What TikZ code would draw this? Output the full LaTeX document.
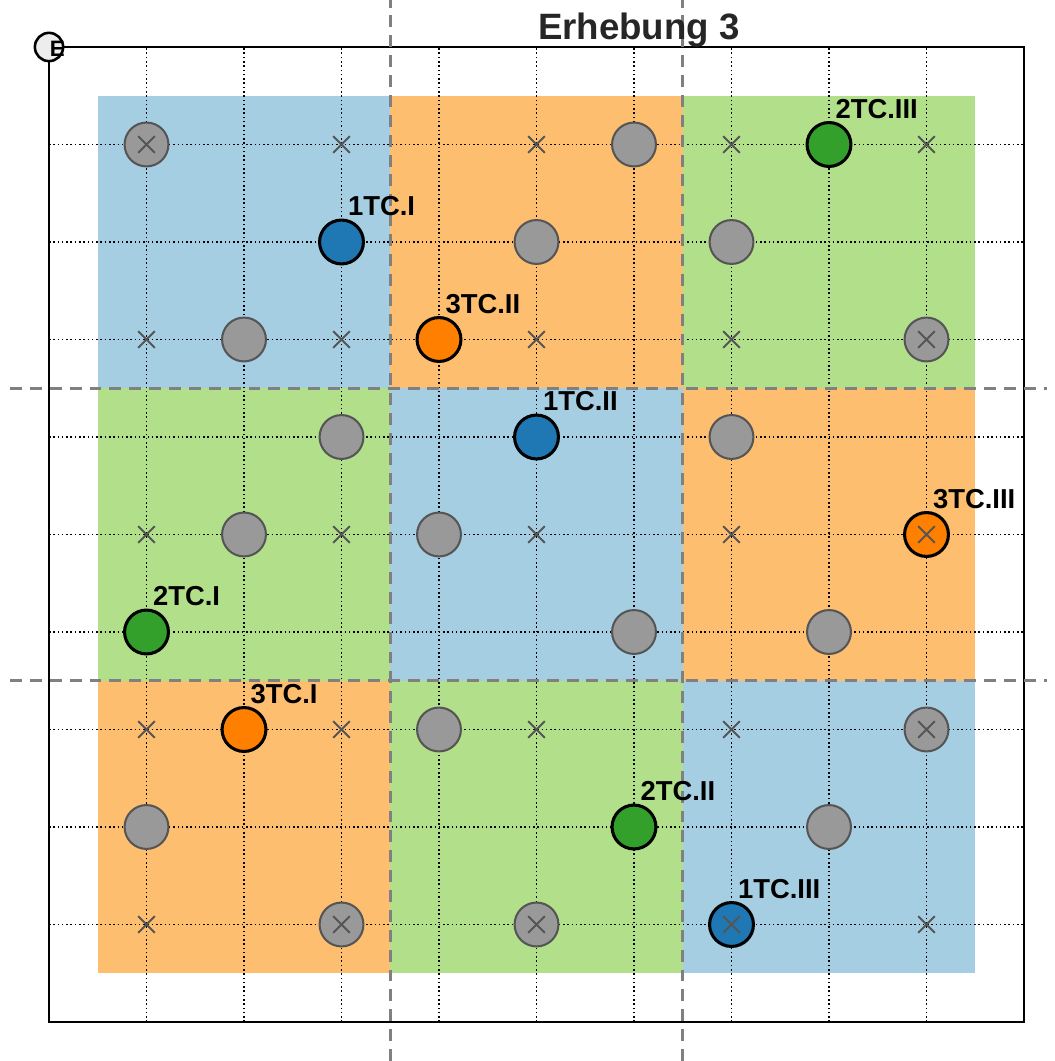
\documentclass[tikz,border=0pt]{standalone}
\usepackage{fontspec}
\setmainfont{Liberation Sans}
\usetikzlibrary{shapes.misc}
\definecolor{blockblue}{HTML}{A6CEE3}
\definecolor{blockorange}{HTML}{FDBF6F}
\definecolor{blockgreen}{HTML}{B2DF8A}
\definecolor{tcblue}{HTML}{1F78B4}
\definecolor{tcorange}{HTML}{FF7F00}
\definecolor{tcgreen}{HTML}{33A02C}
\definecolor{ptgray}{HTML}{999999}
\definecolor{ptedge}{HTML}{555555}
\definecolor{dashgray}{HTML}{808080}
\definecolor{titlegray}{HTML}{262626}

\begin{document}
\begin{tikzpicture}[
 x=1cm,y=1cm,font=\bfseries,
 gridline/.style={draw=black,line width=0.45pt,dash pattern=on 0.45pt off 0.8pt},
 sector/.style={draw=dashgray,line width=0.75pt,dash pattern=on 3.5pt off 2.3pt},
 pt/.style={circle,inner sep=0pt,minimum size=0.45cm},
 graypt/.style={pt,fill=ptgray,draw=ptedge,line width=0.6pt},
 tcpt/.style={pt,draw=black,line width=0.9pt},
 xmark/.style={cross out,draw=ptedge,line width=0.6pt,inner sep=0pt,minimum size=0.15cm},
 lbl/.style={anchor=base west,inner sep=0pt,font=\fontsize{8}{9}\selectfont\bfseries}]
\useasboundingbox (-0.5026,-0.4) rectangle (10.308,10.482);
% sector blocks
\fill[blockblue] (0.5,6.5) rectangle (3.5,9.5);
\fill[blockorange] (3.5,6.5) rectangle (6.5,9.5);
\fill[blockgreen] (6.5,6.5) rectangle (9.5,9.5);
\fill[blockgreen] (0.5,3.5) rectangle (3.5,6.5);
\fill[blockblue] (3.5,3.5) rectangle (6.5,6.5);
\fill[blockorange] (6.5,3.5) rectangle (9.5,6.5);
\fill[blockorange] (0.5,0.5) rectangle (3.5,3.5);
\fill[blockgreen] (3.5,0.5) rectangle (6.5,3.5);
\fill[blockblue] (6.5,0.5) rectangle (9.5,3.5);
% grid
\foreach \k in {1,...,9} {
 \draw[gridline] (\k,0) -- (\k,10);
 \draw[gridline] (0,\k) -- (10,\k);
}
\draw[line width=0.75pt] (0,0) rectangle (10,10);
% sector borders
\draw[sector] (3.5,-0.4) -- (3.5,10.482);
\draw[sector] (6.5,-0.4) -- (6.5,10.482);
\draw[sector] (-0.4,6.5) -- (10.236,6.5);
\draw[sector] (-0.4,3.5) -- (10.236,3.5);
% gray points
\node[graypt] (g19) at (1,9) {};
\node[graypt] (g69) at (6,9) {};
\node[graypt] (g58) at (5,8) {};
\node[graypt] (g78) at (7,8) {};
\node[graypt] (g27) at (2,7) {};
\node[graypt] (g97) at (9,7) {};
\node[graypt] (g36) at (3,6) {};
\node[graypt] (g76) at (7,6) {};
\node[graypt] (g25) at (2,5) {};
\node[graypt] (g45) at (4,5) {};
\node[graypt] (g64) at (6,4) {};
\node[graypt] (g84) at (8,4) {};
\node[graypt] (g43) at (4,3) {};
\node[graypt] (g93) at (9,3) {};
\node[graypt] (g12) at (1,2) {};
\node[graypt] (g82) at (8,2) {};
\node[graypt] (g31) at (3,1) {};
\node[graypt] (g51) at (5,1) {};
% TC points
\node[tcpt,fill=tcblue] (onetcI) at (3,8) {};
\node[tcpt,fill=tcblue] (onetcII) at (5,6) {};
\node[tcpt,fill=tcblue] (onetcIII) at (7,1) {};
\node[tcpt,fill=tcgreen] (twotcI) at (1,4) {};
\node[tcpt,fill=tcgreen] (twotcII) at (6,2) {};
\node[tcpt,fill=tcgreen] (twotcIII) at (8,9) {};
\node[tcpt,fill=tcorange] (threetcI) at (2,3) {};
\node[tcpt,fill=tcorange] (threetcII) at (4,7) {};
\node[tcpt,fill=tcorange] (threetcIII) at (9,5) {};
% crosses
\node[xmark] (x19) at (1,9) {};
\node[xmark] (x39) at (3,9) {};
\node[xmark] (x59) at (5,9) {};
\node[xmark] (x79) at (7,9) {};
\node[xmark] (x99) at (9,9) {};
\node[xmark] (x17) at (1,7) {};
\node[xmark] (x37) at (3,7) {};
\node[xmark] (x57) at (5,7) {};
\node[xmark] (x77) at (7,7) {};
\node[xmark] (x97) at (9,7) {};
\node[xmark] (x15) at (1,5) {};
\node[xmark] (x35) at (3,5) {};
\node[xmark] (x55) at (5,5) {};
\node[xmark] (x75) at (7,5) {};
\node[xmark] (x95) at (9,5) {};
\node[xmark] (x13) at (1,3) {};
\node[xmark] (x33) at (3,3) {};
\node[xmark] (x53) at (5,3) {};
\node[xmark] (x73) at (7,3) {};
\node[xmark] (x93) at (9,3) {};
\node[xmark] (x11) at (1,1) {};
\node[xmark] (x31) at (3,1) {};
\node[xmark] (x51) at (5,1) {};
\node[xmark] (x71) at (7,1) {};
\node[xmark] (x91) at (9,1) {};
% labels
\node[lbl] (lonetcI) at ([shift={(0.06,0.27)}]onetcI.center) {1TC.I};
\node[lbl] (lonetcII) at ([shift={(0.06,0.27)}]onetcII.center) {1TC.II};
\node[lbl] (lonetcIII) at ([shift={(0.06,0.27)}]onetcIII.center) {1TC.III};
\node[lbl] (ltwotcI) at ([shift={(0.06,0.27)}]twotcI.center) {2TC.I};
\node[lbl] (ltwotcII) at ([shift={(0.06,0.27)}]twotcII.center) {2TC.II};
\node[lbl] (ltwotcIII) at ([shift={(0.06,0.27)}]twotcIII.center) {2TC.III};
\node[lbl] (lthreetcI) at ([shift={(0.06,0.27)}]threetcI.center) {3TC.I};
\node[lbl] (lthreetcII) at ([shift={(0.06,0.27)}]threetcII.center) {3TC.II};
\node[lbl] (lthreetcIII) at ([shift={(0.06,0.27)}]threetcIII.center) {3TC.III};
% corner marker and title
\node[circle,draw=black,fill=black!7,line width=0.75pt,inner sep=0pt,minimum size=0.29cm] (corner) at (0,10) {};
\node[inner sep=0pt,font=\fontsize{6.5}{6.5}\selectfont\bfseries] (cornerE) at (0.085,9.985) {E};
\node[anchor=base,inner sep=0pt,text=titlegray,font=\fontsize{10.7}{12}\selectfont\bfseries] (title) at (6.05,10.077) {Erhebung 3};
\end{tikzpicture}
\end{document}
